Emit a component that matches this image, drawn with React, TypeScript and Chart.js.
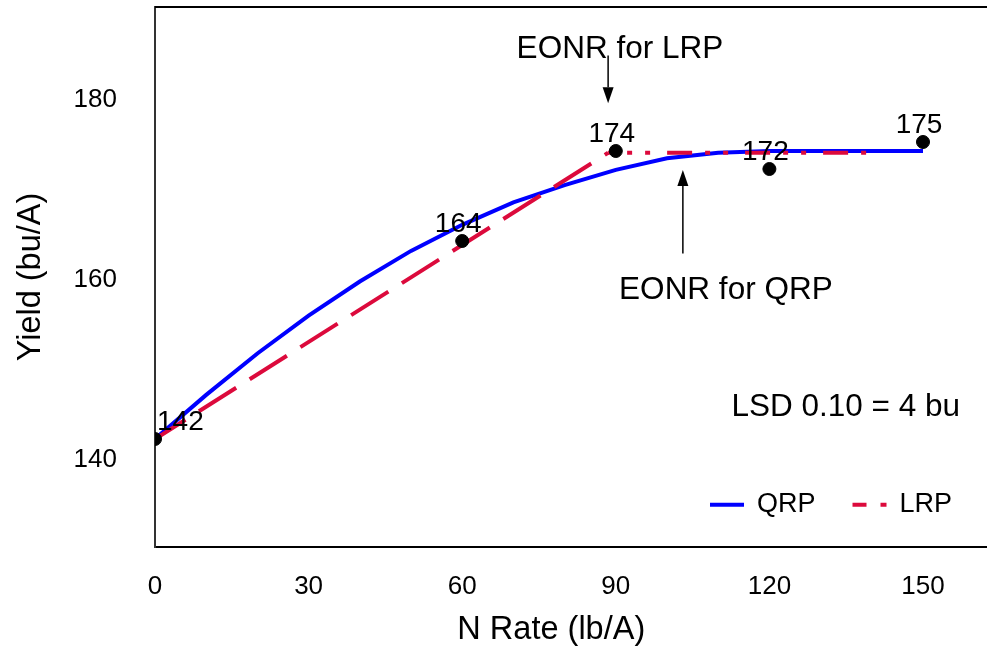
import React, { useEffect, useRef } from "react";
import { Chart, registerables } from "chart.js";

Chart.register(...registerables);

// ---- data ----
const observedRates = [0, 60, 90, 120, 150];
const observedYields = [142, 164, 174, 172, 175];

const qrpRates = [0, 10, 20, 30, 40, 50, 60, 70, 80, 90, 100, 110, 120, 130, 140, 150];
const qrpYields = [142, 146.9, 151.5, 155.7, 159.5, 162.9, 165.8, 168.3, 170.2, 171.9, 173.2, 173.8, 174.0, 174.0, 174.0, 174.0];

const lrpRates = [0, 88.5, 140];
const lrpYields = [142, 173.8, 173.8];

const xTickValues = [0, 30, 60, 90, 120, 150];
const yTickValues = [140, 160, 180];

const seriesNames = ["QRP", "LRP"];
const xTitle = "N Rate (lb/A)";
const yTitle = "Yield (bu/A)";
const lsdText = "LSD 0.10 = 4 bu";
const eonrLrpText = "EONR for LRP";
const eonrQrpText = "EONR for QRP";

const FONT = "'Liberation Sans', Arial, Helvetica, sans-serif";
const BLUE = "#0000ff";
const RED = "#dc0a3c";

function drawArrow(ctx: CanvasRenderingContext2D, x: number, y0: number, y1: number) {
  const dir = y1 > y0 ? 1 : -1;
  const headLen = 16;
  const headHalf = 5.5;
  ctx.save();
  ctx.strokeStyle = "#000";
  ctx.fillStyle = "#000";
  ctx.lineWidth = 1.5;
  ctx.beginPath();
  ctx.moveTo(x, y0);
  ctx.lineTo(x, y1 - dir * headLen);
  ctx.stroke();
  ctx.beginPath();
  ctx.moveTo(x, y1);
  ctx.lineTo(x - headHalf, y1 - dir * headLen);
  ctx.lineTo(x + headHalf, y1 - dir * headLen);
  ctx.closePath();
  ctx.fill();
  ctx.restore();
}

const decorPlugin = {
  id: "decor",
  afterDatasetsDraw(chart: any) {
    const { ctx, chartArea, scales } = chart;
    const xs = scales.x;
    const ys = scales.y;
    ctx.save();

    // top frame line
    ctx.strokeStyle = "#000";
    ctx.lineWidth = 2;
    ctx.beginPath();
    ctx.moveTo(chartArea.left, chartArea.top);
    ctx.lineTo(chart.width, chartArea.top);
    ctx.stroke();

    // data labels
    ctx.fillStyle = "#000";
    ctx.font = `28px ${FONT}`;
    ctx.textBaseline = "middle";
    const meta = chart.getDatasetMeta(0);
    meta.data.forEach((pt: any, i: number) => {
      const label = String(observedYields[i]);
      const w = ctx.measureText(label).width;
      let x = pt.x - 4;
      ctx.textAlign = "center";
      if (x - w / 2 < chartArea.left) {
        x = chartArea.left + 2;
        ctx.textAlign = "left";
      }
      ctx.fillText(label, x, pt.y - 16.5);
    });

    // annotations
    ctx.font = `31.5px ${FONT}`;
    ctx.textAlign = "center";
    ctx.fillText(eonrLrpText, xs.getPixelForValue(90.8), ys.getPixelForValue(185.3));
    ctx.fillText(eonrQrpText, xs.getPixelForValue(111.5), ys.getPixelForValue(158.5));
    ctx.fillText(lsdText, xs.getPixelForValue(134.9), ys.getPixelForValue(145.5));

    drawArrow(ctx, xs.getPixelForValue(88.5), ys.getPixelForValue(184.6), ys.getPixelForValue(179.3));
    drawArrow(ctx, xs.getPixelForValue(103.1), ys.getPixelForValue(162.6), ys.getPixelForValue(171.9));

    // x axis title
    ctx.font = `32.5px ${FONT}`;
    ctx.fillText(xTitle, xs.getPixelForValue(77.4), chart.height - 17);

    // legend
    const ly = ys.getPixelForValue(134.7);
    let lx = chartArea.right - 277;
    ctx.font = `27px ${FONT}`;
    ctx.textAlign = "left";
    seriesNames.forEach((name, i) => {
      const ds = chart.data.datasets[i + 1];
      ctx.save();
      ctx.strokeStyle = ds.borderColor;
      ctx.lineWidth = 4;
      ctx.setLineDash(i === 0 ? [] : [14, 14, 6, 100]);
      ctx.beginPath();
      ctx.moveTo(lx, ly);
      ctx.lineTo(lx + 34, ly);
      ctx.stroke();
      ctx.restore();
      ctx.fillStyle = "#000";
      ctx.fillText(name, lx + 47, ly);
      lx += 47 + ctx.measureText(name).width + 37;
    });

    ctx.restore();
  },
};

function zeroPadding(s: any) {
  s.paddingTop = 0;
  s.paddingBottom = 0;
  s.paddingLeft = 0;
  s.paddingRight = 0;
}

export default function App() {
  const ref = useRef<HTMLCanvasElement | null>(null);

  useEffect(() => {
    document.body.style.margin = "0";
    const canvas = ref.current;
    if (!canvas) return;

    const chart = new Chart(canvas, {
      type: "scatter",
      data: {
        datasets: [
          {
            label: "Observed",
            data: observedRates.map((x, i) => ({ x, y: observedYields[i] })),
            backgroundColor: "#000",
            borderColor: "#000",
            pointRadius: 6.5,
            pointHoverRadius: 6.5,
            showLine: false,
            order: 0,
            clip: { left: 0, top: false, right: false, bottom: false },
          } as any,
          {
            label: seriesNames[0],
            data: qrpRates.map((x, i) => ({ x, y: qrpYields[i] })),
            borderColor: BLUE,
            backgroundColor: BLUE,
            borderWidth: 4,
            pointRadius: 0,
            showLine: true,
            tension: 0,
            order: 2,
          },
          {
            label: seriesNames[1],
            data: lrpRates.map((x, i) => ({ x, y: lrpYields[i] })),
            borderColor: RED,
            backgroundColor: RED,
            borderWidth: 4,
            pointRadius: 0,
            showLine: true,
            tension: 0,
            order: 1,
            segment: {
              borderDash: (c: any) => (c.p0DataIndex === 0 ? [44, 16] : [25, 13, 5, 13, 5, 17]),
              borderDashOffset: (c: any) => (c.p0DataIndex === 0 ? 8 : 19),
            },
          } as any,
        ],
      },
      options: {
        animation: false,
        responsive: false,
        devicePixelRatio: 1,
        layout: { autoPadding: false, padding: { top: 7, right: 0, left: 0, bottom: 0 } },
        plugins: {
          legend: { display: false },
          tooltip: { enabled: false },
          title: { display: false },
        },
        scales: {
          x: {
            type: "linear",
            min: 0,
            max: 162.5,
            afterBuildTicks: (s: any) => {
              s.ticks = xTickValues.map((v) => ({ value: v }));
            },
            afterFit: (s: any) => {
              s.height = 100;
              zeroPadding(s);
            },
            grid: { display: false, drawTicks: false },
            border: { display: true, color: "#000", width: 2 },
            ticks: {
              color: "#000",
              font: { family: FONT, size: 26 },
              padding: 24,
              autoSkip: false,
              maxRotation: 0,
            },
            title: { display: false, text: xTitle },
          },
          y: {
            type: "linear",
            min: 130,
            max: 190,
            afterBuildTicks: (s: any) => {
              s.ticks = yTickValues.map((v) => ({ value: v }));
            },
            afterFit: (s: any) => {
              s.width = 155;
              zeroPadding(s);
            },
            grid: { display: false, drawTicks: false },
            border: { display: true, color: "#333", width: 2 },
            ticks: {
              color: "#000",
              font: { family: FONT, size: 26 },
              padding: 38,
              labelOffset: 3,
            },
            title: {
              display: true,
              text: yTitle,
              color: "#000",
              font: { family: FONT, size: 32.5 },
              padding: { top: 12, bottom: 0 },
            },
          },
        },
      },
      plugins: [decorPlugin],
    });

    return () => {
      chart.destroy();
    };
  }, []);

  return (
    <div style={{ width: 987, height: 647 }}>
      <canvas ref={ref} width={987} height={647} style={{ display: "block" }} />
    </div>
  );
}
